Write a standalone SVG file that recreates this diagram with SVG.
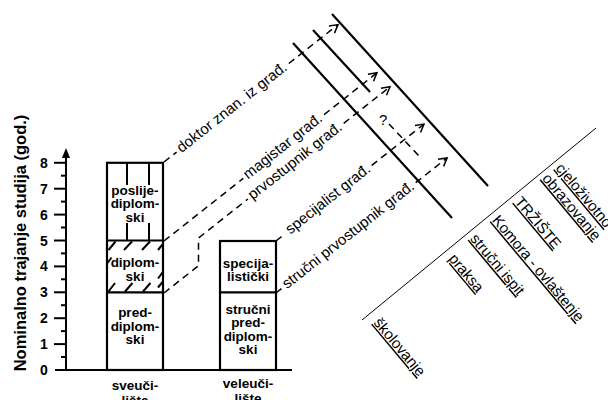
<svg xmlns="http://www.w3.org/2000/svg" width="608" height="400" viewBox="0 0 608 400">
<defs>
<style>
.b{font-family:"Liberation Sans",Arial,sans-serif;font-weight:bold;font-size:13.5px;fill:#000;text-anchor:middle}
.n{font-family:"Liberation Sans",Arial,sans-serif;font-weight:bold;font-size:14px;fill:#000;text-anchor:middle}
.t{font-family:"Liberation Sans",Arial,sans-serif;font-size:15px;fill:#000}
.u{font-family:"Liberation Sans",Arial,sans-serif;font-size:15px;fill:#000;text-decoration:underline}
.box{fill:#fff;stroke:#000;stroke-width:2.2}
.ln{stroke:#000;stroke-width:2.2;fill:none}
.h{stroke:#000;stroke-width:2;fill:none}
.d{stroke:#000;stroke-width:1.5;fill:none;stroke-dasharray:7 5}
.ax{stroke:#000;stroke-width:2;fill:none}
</style>
<marker id="ar" markerUnits="userSpaceOnUse" markerWidth="20" markerHeight="20" refX="0" refY="0" viewBox="-10 -10 20 20" orient="auto" overflow="visible">
<path d="M-8,-4.5 L0,0 L-8,4.5" fill="none" stroke="#000" stroke-width="1.5" stroke-dasharray="none"/>
</marker>
</defs>
<rect width="608" height="400" fill="#fff"/>

<g id="axis">
<line class="ax" x1="66" y1="371" x2="66" y2="156"/>
<path d="M66,148 L62,158 L70,158 Z" fill="#000"/>
<line class="ax" x1="55" y1="370" x2="292" y2="370"/>
<g class="ax">
<line x1="54" y1="344.1" x2="66" y2="344.1"/>
<line x1="54" y1="318.2" x2="66" y2="318.2"/>
<line x1="54" y1="292.3" x2="66" y2="292.3"/>
<line x1="54" y1="266.4" x2="66" y2="266.4"/>
<line x1="54" y1="240.5" x2="66" y2="240.5"/>
<line x1="54" y1="214.6" x2="66" y2="214.6"/>
<line x1="54" y1="188.7" x2="66" y2="188.7"/>
<line x1="54" y1="162.8" x2="66" y2="162.8"/>
<line x1="61" y1="357" x2="66" y2="357"/>
<line x1="61" y1="331.1" x2="66" y2="331.1"/>
<line x1="61" y1="305.2" x2="66" y2="305.2"/>
<line x1="61" y1="279.3" x2="66" y2="279.3"/>
<line x1="61" y1="253.4" x2="66" y2="253.4"/>
<line x1="61" y1="227.5" x2="66" y2="227.5"/>
<line x1="61" y1="201.6" x2="66" y2="201.6"/>
<line x1="61" y1="175.7" x2="66" y2="175.7"/>
</g>
<text class="n" x="44" y="375">0</text>
<text class="n" x="44" y="349">1</text>
<text class="n" x="44" y="323">2</text>
<text class="n" x="44" y="297">3</text>
<text class="n" x="44" y="271">4</text>
<text class="n" x="44" y="245.5">5</text>
<text class="n" x="44" y="219.5">6</text>
<text class="n" x="44" y="193.5">7</text>
<text class="n" x="44" y="167.5">8</text>
<text class="n" style="font-size:16.5px" transform="translate(26,243) rotate(-90)">Nominalno trajanje studija (god.)</text>
</g>

<g id="sveuciliste">
<rect class="box" x="107" y="162.8" width="56" height="207.2"/>
<line class="ln" x1="107" y1="240.5" x2="163" y2="240.5"/>
<line class="ln" x1="107" y1="292.3" x2="163" y2="292.3"/>
<g class="h">
<line x1="127" y1="163" x2="127" y2="185"/>
<line x1="149" y1="163" x2="149" y2="185"/>
<line x1="127" y1="223" x2="127" y2="240.5"/>
<line x1="149" y1="223" x2="149" y2="240.5"/>
<line x1="108.5" y1="250" x2="115.5" y2="241.5"/>
<line x1="124" y1="250" x2="132" y2="241.5"/>
<line x1="142" y1="250" x2="150" y2="241.5"/>
<line x1="158" y1="250" x2="162.5" y2="244.5"/>
<line x1="108.5" y1="291.5" x2="115" y2="283"/>
<line x1="125" y1="291.5" x2="132.5" y2="283"/>
<line x1="143" y1="291.5" x2="150.5" y2="283"/>
<line x1="158" y1="287.5" x2="162.5" y2="282"/>
<line x1="107.5" y1="263" x2="111.5" y2="257.5"/>
<line x1="158" y1="278.5" x2="162.5" y2="272.5"/>
</g>
<text class="b" x="135" y="194.5">poslije-</text>
<text class="b" x="135" y="208">diplom-</text>
<text class="b" x="135" y="221.5">ski</text>
<text class="b" x="135" y="267">diplom-</text>
<text class="b" x="135" y="280.5">ski</text>
<text class="b" x="135" y="317">pred-</text>
<text class="b" x="135" y="330.5">diplom-</text>
<text class="b" x="135" y="344">ski</text>
<text class="b" x="135" y="390">sveuči-</text>
<text class="b" x="135" y="404.5">lište</text>
</g>

<g id="veleuciliste">
<rect class="box" x="220" y="241" width="56" height="129"/>
<line class="ln" x1="220" y1="292.3" x2="276" y2="292.3"/>
<text class="b" x="248" y="267.5">specija-</text>
<text class="b" x="248" y="281">listički</text>
<text class="b" x="248" y="313.5">stručni</text>
<text class="b" x="248" y="327">pred-</text>
<text class="b" x="248" y="340.5">diplom-</text>
<text class="b" x="248" y="354">ski</text>
<text class="b" x="248" y="388">veleuči-</text>
<text class="b" x="248" y="402.5">lište</text>
</g>

<g id="lines">
<line class="ln" x1="332" y1="14" x2="488" y2="186"/>
<line class="ln" x1="313" y1="30" x2="370" y2="92"/>
<line class="ln" x1="293" y1="43" x2="452" y2="218"/>
</g>

<g id="connectors">
<path class="d" d="M164,162 L176.6,152.1"/>
<path class="d" d="M288.8,63.5 L338,24.6" marker-end="url(#ar)"/>
<path class="d" d="M164,241 L243.3,178.4"/>
<path class="d" d="M324.1,114.6 L377,72.8" marker-end="url(#ar)"/>
<path class="d" d="M164,293 L198.5,265.7 L198.5,238 L247.9,199"/>
<path class="d" d="M343.7,123.3 L390,86.8" marker-end="url(#ar)"/>
<path class="d" d="M276,241 L285.4,233.6"/>
<path class="d" d="M371.7,165.4 L424,124.1" marker-end="url(#ar)"/>
<path class="d" d="M276,293 L282.3,288"/>
<path class="d" d="M415.7,182.7 L447.1,157.9" marker-end="url(#ar)"/>
<path class="d" d="M389,124 L419,156"/>
</g>

<g id="labels">
<text class="t" transform="translate(178.9,150.2) rotate(-38.3)" y="4">doktor znan. iz građ.</text>
<text class="t" transform="translate(245.6,176.5) rotate(-38.3)" y="4">magistar građ.</text>
<text class="t" transform="translate(250.3,197.1) rotate(-38.3)" y="4">prvostupnik građ.</text>
<text class="t" transform="translate(287.8,231.7) rotate(-38.3)" y="4">specijalist građ.</text>
<text class="t" transform="translate(284.6,286.2) rotate(-38.3)" y="4">stručni prvostupnik građ.</text>
<text class="t" x="379" y="125">?</text>
</g>

<g id="market">
<line x1="362" y1="320" x2="596" y2="128" stroke="#000" stroke-width="1"/>
<text class="u" transform="translate(373,323) rotate(50)">školovanje</text>
<text class="u" transform="translate(448,259) rotate(50)">praksa</text>
<text class="u" transform="translate(469.5,239) rotate(50)">stručni ispit</text>
<text class="u" transform="translate(491.5,220.5) rotate(50)">Komora - ovlaštenje</text>
<text class="u" transform="translate(514,202) rotate(50)">TRŽIŠTE</text>
<text class="u" transform="translate(555,168.5) rotate(50)">cjeloživotno</text>
<text class="u" transform="translate(541.5,178.7) rotate(50)">obrazovanje</text>
</g>
</svg>
